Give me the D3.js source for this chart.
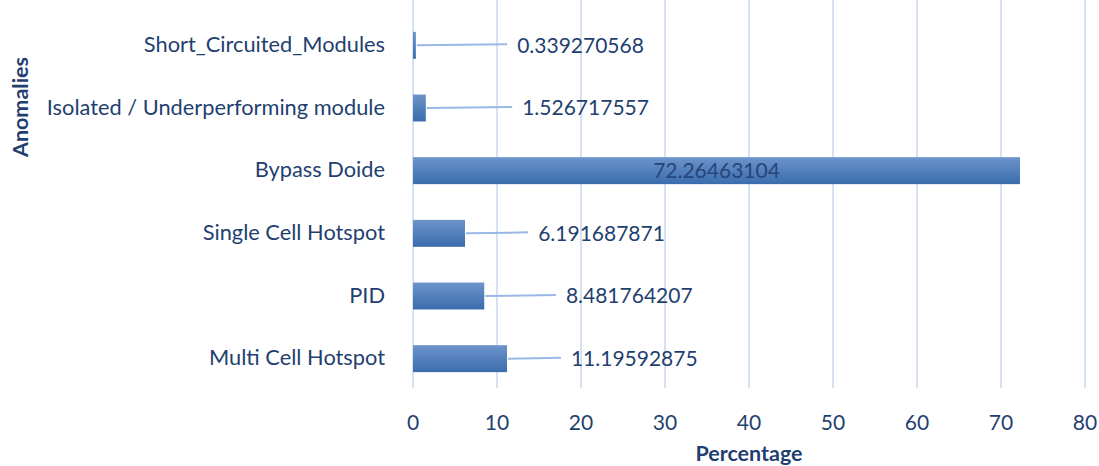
<!DOCTYPE html>
<html><head><meta charset="utf-8">
<script src="https://cdn.jsdelivr.net/npm/d3@7"></script>
<style>body{margin:0;background:#fff}svg{display:block}</style>
</head><body><svg id="c" width="1099" height="466"></svg>
<script>
const categories = ["Short_Circuited_Modules","Isolated / Underperforming module","Bypass Doide","Single Cell Hotspot","PID","Multi Cell Hotspot"];
const values = [0.339270568,1.526717557,72.26463104,6.191687871,8.481764207,11.19592875];
const labels = ["0.339270568","1.526717557","72.26463104","6.191687871","8.481764207","11.19592875"];
const xTicks = [0,10,20,30,40,50,60,70,80];
// where each data label starts (in axis units); null = centred inside bar
const labelAt = [12.4,13.0,null,14.9,18.2,18.8];

(function(){
const svg = d3.select("#c");
const pL = 413, pR = 1085, pT = 14, pB = 390;
const x = d3.scaleLinear().domain([0,80]).range([pL,pR]);
const y = d3.scaleBand().domain(categories).range([pT,pB]).paddingInner(0.57).paddingOuter(0.285);
const txt = "#1f3f70";
const font = "Lato, 'Open Sans', sans-serif";

const defs = svg.append("defs");
const g = defs.append("linearGradient").attr("id","bg").attr("x1",0).attr("y1",0).attr("x2",0).attr("y2",1);
g.append("stop").attr("offset","0%").attr("stop-color","#6d94ca");
g.append("stop").attr("offset","100%").attr("stop-color","#3a6cad");

svg.append("g").selectAll("line").data(xTicks).join("line")
  .attr("x1",d=>x(d)).attr("x2",d=>x(d)).attr("y1",0).attr("y2",pB-2)
  .attr("stroke","#d6e1f3").attr("stroke-width",2);

svg.append("g").selectAll("rect").data(values).join("rect")
  .attr("x",x(0)).attr("y",(d,i)=>y(categories[i]))
  .attr("width",d=>x(d)-x(0)).attr("height",y.bandwidth())
  .attr("fill","url(#bg)");

svg.append("g").selectAll("line").data(values.map((v,i)=>({v,i})).filter(d=>labelAt[d.i]!==null)).join("line")
  .attr("x1",d=>x(d.v)+1).attr("y1",d=>y(categories[d.i])+y.bandwidth()/2)
  .attr("x2",d=>x(labelAt[d.i])-10).attr("y2",d=>y(categories[d.i])+y.bandwidth()/2-1)
  .attr("stroke","#9ab8e6").attr("stroke-width",2);

svg.append("g").selectAll("text").data(values.map((v,i)=>({v,i}))).join("text")
  .attr("x",d=>labelAt[d.i]===null ? (x(0)+x(d.v))/2 : x(labelAt[d.i]))
  .attr("y",d=>y(categories[d.i])+y.bandwidth()/2)
  .attr("dy","0.35em")
  .attr("text-anchor",d=>labelAt[d.i]===null?"middle":"start")
  .attr("font-family",font).attr("font-size",21)
  .attr("fill",d=>labelAt[d.i]===null?"#26467a":txt)
  .text(d=>labels[d.i]);

svg.append("g").selectAll("text").data(categories).join("text")
  .attr("x",385).attr("y",d=>y(d)+y.bandwidth()/2-1).attr("dy","0.35em")
  .attr("text-anchor","end").attr("font-family",font).attr("font-size",21.8).attr("fill",txt)
  .text(d=>d);

svg.append("g").selectAll("text").data(xTicks).join("text")
  .attr("x",d=>x(d)).attr("y",423).attr("dy","0.35em").attr("text-anchor","middle")
  .attr("font-family",font).attr("font-size",21).attr("fill",txt).text(d=>d);

svg.append("text").attr("x",749).attr("y",453).attr("dy","0.35em").attr("text-anchor","middle")
  .attr("font-family",font).attr("font-size",21.5).attr("font-weight","bold").attr("fill",txt).text("Percentage");
svg.append("text").attr("transform","translate(20,107) rotate(-90)").attr("dy","0.35em").attr("text-anchor","middle")
  .attr("font-family",font).attr("font-size",21.5).attr("font-weight","bold").attr("fill",txt).text("Anomalies");
})();
</script></body></html>
